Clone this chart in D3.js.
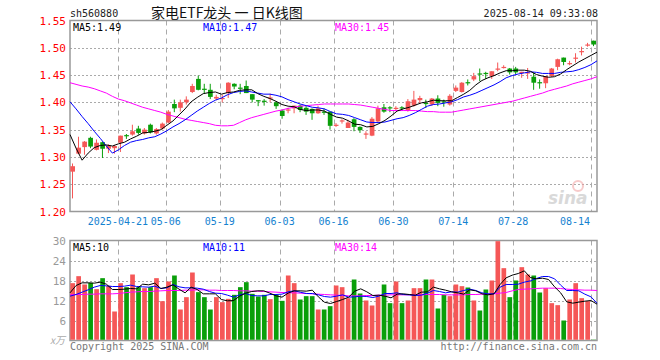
<!DOCTYPE html>
<html><head><meta charset="utf-8">
<script src="https://cdn.jsdelivr.net/npm/d3@7"></script>
<style>
body{margin:0;background:#fff}
svg{display:block}
text{font-family:"DejaVu Sans Mono",monospace}
</style>
</head><body>
<svg id="c" width="660" height="360"></svg>
<script>
// ---------- DATA ----------
const dates = [
"04-09","04-10","04-11","04-14","04-15","04-16","04-17","04-18","04-21","04-22","04-23","04-24","04-25","04-28","04-29","04-30",
"05-06","05-07","05-08","05-09","05-12","05-13","05-14","05-15","05-16","05-19","05-20","05-21","05-22","05-23","05-26","05-27","05-28","05-29","05-30",
"06-03","06-04","06-05","06-06","06-09","06-10","06-11","06-12","06-13","06-16","06-17","06-18","06-19","06-20","06-23","06-24","06-25","06-26","06-27","06-30",
"07-01","07-02","07-03","07-04","07-07","07-08","07-09","07-10","07-11","07-14","07-15","07-16","07-17","07-18","07-21","07-22","07-23","07-24","07-25","07-28","07-29","07-30","07-31",
"08-01","08-04","08-05","08-06","08-07","08-08","08-11","08-12","08-13","08-14"];

const open  = [1.273,1.306,1.318,1.335,1.313,1.327,1.315,1.316,1.326,1.340,1.341,1.352,1.343,1.359,1.343,1.352,1.363,1.397,1.390,1.400,1.419,1.443,1.425,1.423,1.407,1.406,1.417,1.434,1.427,1.430,1.415,1.404,1.403,1.407,1.400,1.385,1.386,1.389,1.394,1.390,1.388,1.380,1.383,1.383,1.357,1.365,1.353,1.369,1.355,1.342,1.339,1.365,1.391,1.391,1.389,1.391,1.385,1.394,1.404,1.399,1.396,1.407,1.402,1.396,1.421,1.419,1.437,1.442,1.453,1.454,1.448,1.461,1.464,1.462,1.462,1.455,1.454,1.447,1.437,1.435,1.448,1.465,1.482,1.471,1.481,1.493,1.505,1.513];
const high  = [1.288,1.337,1.329,1.337,1.332,1.328,1.323,1.322,1.339,1.342,1.359,1.357,1.353,1.361,1.353,1.363,1.386,1.405,1.405,1.411,1.434,1.449,1.434,1.434,1.414,1.414,1.437,1.435,1.434,1.440,1.415,1.404,1.406,1.416,1.402,1.387,1.390,1.394,1.396,1.394,1.389,1.394,1.389,1.383,1.362,1.369,1.368,1.371,1.356,1.347,1.373,1.394,1.397,1.393,1.393,1.393,1.406,1.421,1.412,1.405,1.408,1.413,1.405,1.415,1.431,1.437,1.442,1.454,1.462,1.456,1.457,1.473,1.468,1.463,1.465,1.456,1.463,1.454,1.442,1.448,1.463,1.480,1.482,1.476,1.490,1.502,1.509,1.513];
const low   = [1.224,1.305,1.304,1.316,1.312,1.298,1.307,1.306,1.309,1.333,1.339,1.341,1.341,1.343,1.341,1.350,1.362,1.382,1.383,1.396,1.417,1.422,1.416,1.406,1.404,1.400,1.408,1.424,1.415,1.417,1.400,1.393,1.394,1.400,1.388,1.370,1.380,1.380,1.382,1.377,1.368,1.379,1.377,1.350,1.355,1.361,1.353,1.347,1.344,1.333,1.338,1.363,1.381,1.382,1.384,1.386,1.383,1.392,1.398,1.390,1.394,1.393,1.392,1.394,1.419,1.418,1.431,1.439,1.439,1.443,1.443,1.457,1.462,1.451,1.451,1.445,1.443,1.423,1.425,1.426,1.447,1.459,1.468,1.468,1.473,1.486,1.502,1.503];
const close = [1.283,1.317,1.328,1.319,1.326,1.315,1.321,1.320,1.339,1.339,1.347,1.344,1.350,1.345,1.351,1.361,1.383,1.389,1.400,1.405,1.430,1.423,1.424,1.410,1.410,1.408,1.436,1.429,1.426,1.417,1.405,1.403,1.402,1.409,1.393,1.375,1.387,1.394,1.386,1.383,1.380,1.389,1.382,1.357,1.359,1.367,1.363,1.355,1.349,1.343,1.370,1.389,1.383,1.390,1.390,1.390,1.402,1.405,1.408,1.398,1.407,1.399,1.401,1.412,1.427,1.436,1.436,1.448,1.452,1.453,1.457,1.462,1.465,1.455,1.455,1.456,1.455,1.436,1.436,1.448,1.462,1.479,1.474,1.472,1.482,1.494,1.506,1.506];

const ma5  = [1.341,1.316,1.294,1.307,1.317,1.321,1.322,1.320,1.324,1.327,1.333,1.338,1.344,1.345,1.347,1.350,1.358,1.366,1.377,1.388,1.401,1.409,1.416,1.418,1.419,1.415,1.418,1.419,1.422,1.423,1.423,1.416,1.411,1.407,1.402,1.396,1.393,1.392,1.387,1.385,1.386,1.386,1.384,1.378,1.373,1.371,1.366,1.360,1.359,1.355,1.356,1.361,1.367,1.375,1.384,1.388,1.391,1.395,1.399,1.401,1.404,1.403,1.403,1.403,1.409,1.415,1.422,1.432,1.440,1.445,1.449,1.454,1.458,1.458,1.459,1.459,1.457,1.451,1.448,1.446,1.447,1.452,1.460,1.467,1.474,1.480,1.486,1.492];
const ma10 = [1.401,1.388,1.374,1.361,1.347,1.334,1.320,1.307,1.313,1.321,1.327,1.330,1.332,1.335,1.337,1.342,1.348,1.355,1.361,1.368,1.376,1.384,1.391,1.398,1.404,1.408,1.414,1.418,1.420,1.421,1.419,1.417,1.415,1.415,1.413,1.410,1.405,1.401,1.397,1.394,1.391,1.390,1.388,1.383,1.379,1.378,1.376,1.372,1.368,1.364,1.363,1.363,1.364,1.367,1.370,1.372,1.376,1.381,1.387,1.393,1.396,1.397,1.399,1.401,1.405,1.410,1.413,1.417,1.422,1.427,1.432,1.438,1.445,1.449,1.452,1.454,1.456,1.455,1.453,1.453,1.453,1.455,1.456,1.457,1.460,1.464,1.469,1.476];
const ma30 = [1.436,1.433,1.430,1.428,1.425,1.421,1.417,1.411,1.406,1.403,1.399,1.395,1.391,1.388,1.385,1.382,1.378,1.375,1.372,1.369,1.367,1.365,1.363,1.361,1.358,1.357,1.357,1.358,1.363,1.368,1.372,1.375,1.378,1.381,1.384,1.386,1.389,1.391,1.393,1.394,1.395,1.396,1.397,1.397,1.397,1.397,1.397,1.396,1.395,1.393,1.391,1.389,1.387,1.385,1.385,1.385,1.385,1.385,1.384,1.383,1.383,1.382,1.382,1.382,1.384,1.386,1.388,1.390,1.392,1.394,1.396,1.398,1.400,1.402,1.405,1.408,1.411,1.414,1.417,1.421,1.424,1.427,1.430,1.434,1.437,1.440,1.443,1.447];

// volume in 万
const volume = [17.2,19.3,16.8,17.3,15.4,18.7,16.4,8.7,17.2,16.0,19.8,16.0,15.7,16.0,18.7,11.8,17.7,19.5,9.3,13.0,20.4,14.5,13.0,9.3,13.0,11.5,12.5,13.7,16.0,17.5,14.0,13.2,13.7,12.4,13.7,11.9,19.5,17.2,12.3,13.3,13.3,9.3,9.3,10.3,16.5,16.0,12.7,18.3,14.1,12.0,10.5,13.3,16.8,11.2,17.7,11.2,12.0,15.7,15.7,18.3,18.3,9.6,13.7,13.3,16.8,16.3,15.9,12.0,9.0,15.3,18.0,29.8,21.7,13.0,18.0,22.0,19.8,19.5,14.4,15.7,11.2,10.6,6.0,12.3,17.2,12.7,11.8,0.3];
const volMa5  = [14.3,16.5,17.3,17.3,17.2,17.5,16.9,15.3,15.3,15.4,15.6,15.5,16.9,16.7,17.2,15.6,16.0,16.7,15.4,14.3,16.0,15.3,14.0,14.0,14.0,12.3,11.9,12.0,13.3,14.2,14.7,14.9,14.9,14.2,13.4,13.0,14.2,14.9,14.9,14.8,15.1,13.1,11.5,11.1,11.7,12.3,13.0,14.8,15.5,14.6,13.5,13.6,13.3,12.8,13.9,14.0,13.8,13.6,14.5,14.6,16.0,15.5,15.1,14.6,14.3,13.9,15.2,14.9,14.0,13.7,14.0,16.8,18.8,19.6,20.1,20.9,18.9,18.5,18.7,18.3,16.1,14.3,11.6,11.2,11.5,11.8,12.0,10.9];
const volMa10 = [13.3,13.8,14.5,15.2,16.0,16.5,16.4,16.2,16.2,16.3,16.6,16.2,16.1,16.0,16.3,15.6,15.8,16.8,16.1,15.8,15.8,15.7,15.4,14.7,14.2,14.1,13.6,13.0,13.7,14.1,13.5,13.4,13.4,13.8,13.8,13.9,14.6,14.9,14.5,14.1,14.1,13.7,13.2,13.0,13.3,13.7,13.0,13.1,13.3,13.2,12.9,13.3,14.1,14.1,14.3,13.8,13.7,13.5,13.6,14.2,15.0,14.7,14.3,14.6,14.5,15.0,15.4,15.0,14.3,14.0,14.0,16.0,16.8,16.8,16.9,17.5,17.9,18.6,19.2,19.2,18.5,16.6,15.0,15.0,14.9,13.9,13.1,11.2];
const volMa30 = [13.7,13.8,13.8,13.9,13.9,14.0,14.0,14.0,14.1,14.3,14.5,14.6,14.7,14.7,14.8,14.9,15.0,15.0,15.0,15.1,15.1,15.2,15.2,15.1,15.1,15.0,15.0,15.0,14.9,14.9,14.8,14.8,14.7,14.6,14.5,14.4,14.3,14.3,14.2,14.1,14.0,13.9,13.8,13.7,13.6,13.5,13.4,13.4,13.4,13.5,13.5,13.6,13.6,13.7,13.7,13.7,13.7,13.7,13.7,13.8,13.8,13.8,13.7,13.7,13.7,13.7,13.8,13.8,13.9,13.9,14.0,14.2,14.4,14.9,15.3,15.4,15.5,15.6,15.7,15.7,15.7,15.6,15.4,15.3,15.2,15.1,15.1,15.0];

const tickDates  = ["04-21","05-06","05-19","06-03","06-16","06-30","07-14","07-28","08-14"];
const tickLabels = ["2025-04-21","05-06","05-19","06-03","06-16","06-30","07-14","07-28","08-14"];
const priceTicks = [1.20,1.25,1.30,1.35,1.40,1.45,1.50,1.55];
const volTicks   = [6,12,18,24,30];
const legendPrice = ["MA5:1.49","MA10:1.47","MA30:1.45"];
const legendVol   = ["MA5:10","MA10:11","MA30:14"];

// ---------- LAYOUT ----------
const svg = d3.select("#c");
const L=70, R=597, T=20.5, B=211.5, VT=240.5, VB=340.5;
const RED="#f55757", GREEN="#0a9f0a", GRID="#aaa", BORDER="#999";

const x  = d3.scaleBand().domain(dates).range([L,R]).padding(0);
const xm = d3.scalePoint().domain(dates).range([L,R]);
const y  = d3.scaleLinear().domain([1.20,1.55]).range([B,T]);
const yv = d3.scaleLinear().domain([0,30]).range([VB,VT]);

// header
svg.append("text").attr("x",70).attr("y",13).attr("dy","0.35em").attr("font-size",10).attr("fill","#222").text("sh560880");
svg.append("text").attr("x",151).attr("y",13).attr("dy","0.35em").attr("font-size",14)
   .style("font-family","'Noto Sans CJK SC',sans-serif").attr("fill","#111").text("家电ETF龙头 一 日K线图");
svg.append("text").attr("x",598).attr("y",13).attr("dy","0.35em").attr("text-anchor","end").attr("font-size",10).attr("fill","#222").text("2025-08-14 09:33:08");

function panelGrid(yScale, ticks, top, bottom){
  const g = svg.append("g");
  g.selectAll("line.h").data(ticks.filter(t=>yScale(t)>top+1 && yScale(t)<bottom-1)).enter().append("line")
   .attr("x1",L).attr("x2",R).attr("y1",d=>Math.round(yScale(d))+0.5).attr("y2",d=>Math.round(yScale(d))+0.5)
   .attr("stroke",GRID).attr("stroke-dasharray","2,2");
  g.selectAll("line.v").data(tickDates).enter().append("line")
   .attr("x1",d=>Math.round(x(d))+0.5).attr("x2",d=>Math.round(x(d))+0.5).attr("y1",top).attr("y2",bottom)
   .attr("stroke",GRID).attr("stroke-dasharray","5,4");
  g.append("rect").attr("x",L).attr("y",top).attr("width",R-L).attr("height",bottom-top)
   .attr("fill","none").attr("stroke",BORDER).attr("stroke-width",1.5);
}
panelGrid(y, priceTicks, T, B);
panelGrid(yv, volTicks, VT, VB);

// y axes
const ax = svg.append("g").attr("transform",`translate(${L},0)`)
  .call(d3.axisLeft(y).tickValues(priceTicks).tickFormat(d3.format(".2f")).tickSize(0).tickPadding(4));
ax.select(".domain").remove();
ax.selectAll("text").attr("fill","#f00").attr("font-size",11).style("font-family","'DejaVu Sans Mono',monospace");

const axv = svg.append("g").attr("transform",`translate(${L},0)`)
  .call(d3.axisLeft(yv).tickValues(volTicks).tickSize(0).tickPadding(4));
axv.select(".domain").remove();
axv.selectAll("text").attr("fill","#999").attr("font-size",11).style("font-family","'DejaVu Sans Mono',monospace");
svg.append("text").attr("x",65).attr("y",VB).attr("dy","0.35em").attr("text-anchor","end")
   .attr("font-size",10).attr("font-style","italic").attr("fill","#aaa").style("font-family","'Noto Sans CJK SC',sans-serif").text("x万");

// x labels (last one is kept inside the panel, ending at its gridline)
const lastTick = tickDates.length-1;
svg.append("g").selectAll("text").data(tickDates).enter().append("text")
  .attr("x",(d,i)=>i===lastTick ? x(d)-1 : x(d)).attr("y",221).attr("dy","0.35em")
  .attr("text-anchor",(d,i)=>i===lastTick?"end":"middle")
  .attr("font-size",10).attr("fill","#1582d0").text((d,i)=>tickLabels[i]);

// candles
const idx = d3.range(dates.length);
const bw = x.bandwidth();
const cg = svg.append("g");
cg.selectAll("line").data(idx).enter().append("line")
  .attr("x1",i=>x(dates[i])+2.5).attr("x2",i=>x(dates[i])+2.5)
  .attr("y1",i=>y(high[i])).attr("y2",i=>y(low[i]))
  .attr("stroke",i=>close[i]>=open[i]?RED:GREEN).attr("stroke-width",1);
cg.selectAll("rect").data(idx).enter().append("rect")
  .attr("x",i=>x(dates[i])+0.3).attr("width",bw-1.3)
  .attr("y",i=>y(Math.max(open[i],close[i])))
  .attr("height",i=>Math.max(1.2,Math.abs(y(open[i])-y(close[i]))))
  .attr("fill",i=>close[i]>=open[i]?RED:GREEN);

// MA lines
function maLine(arr, scale, color){
  svg.append("path").datum(idx)
    .attr("d", d3.line().x(i=>xm(dates[i])).y(i=>scale(arr[i])))
    .attr("fill","none").attr("stroke",color).attr("stroke-width",1);
}
maLine(ma30, y, "#ff00ff");
maLine(ma10, y, "#0000ff");
maLine(ma5,  y, "#000");

// volume bars
svg.append("g").selectAll("rect").data(idx).enter().append("rect")
  .attr("x",i=>x(dates[i])+0.3).attr("width",bw-1.3)
  .attr("y",i=>yv(volume[i])).attr("height",i=>VB-0.75-yv(volume[i]))
  .attr("fill",i=>close[i]>=open[i]?RED:GREEN);
maLine(volMa30, yv, "#ff00ff");
maLine(volMa10, yv, "#0000ff");
maLine(volMa5,  yv, "#000");

// legends
const legX=[73,203,335], legC=["#000","#0000ff","#ff00ff"];
legendPrice.forEach((t,i)=>svg.append("text").attr("x",legX[i]).attr("y",27).attr("dy","0.35em").attr("font-size",10).attr("fill",legC[i]).text(t));
legendVol.forEach((t,i)=>svg.append("text").attr("x",legX[i]).attr("y",247).attr("dy","0.35em").attr("font-size",10).attr("fill",legC[i]).text(t));

// watermark
const wm = svg.append("g").attr("opacity",0.55);
wm.append("circle").attr("cx",578).attr("cy",186).attr("r",5).attr("fill","none").attr("stroke","#f2a0a0").attr("stroke-width",2);
wm.append("text").attr("x",548).attr("y",204).attr("font-size",17).attr("font-weight","bold").attr("font-style","italic")
  .style("font-family","'DejaVu Sans',sans-serif").attr("fill","#bbb").text("sina");

// footer
svg.append("text").attr("x",70).attr("y",346).attr("dy","0.35em").attr("font-size",10).attr("fill","#777").text("Copyright 2025 SINA.COM");
svg.append("text").attr("x",597).attr("y",346).attr("dy","0.35em").attr("text-anchor","end").attr("font-size",10).attr("fill","#777").text("http://finance.sina.com.cn");
</script>
</body></html>
